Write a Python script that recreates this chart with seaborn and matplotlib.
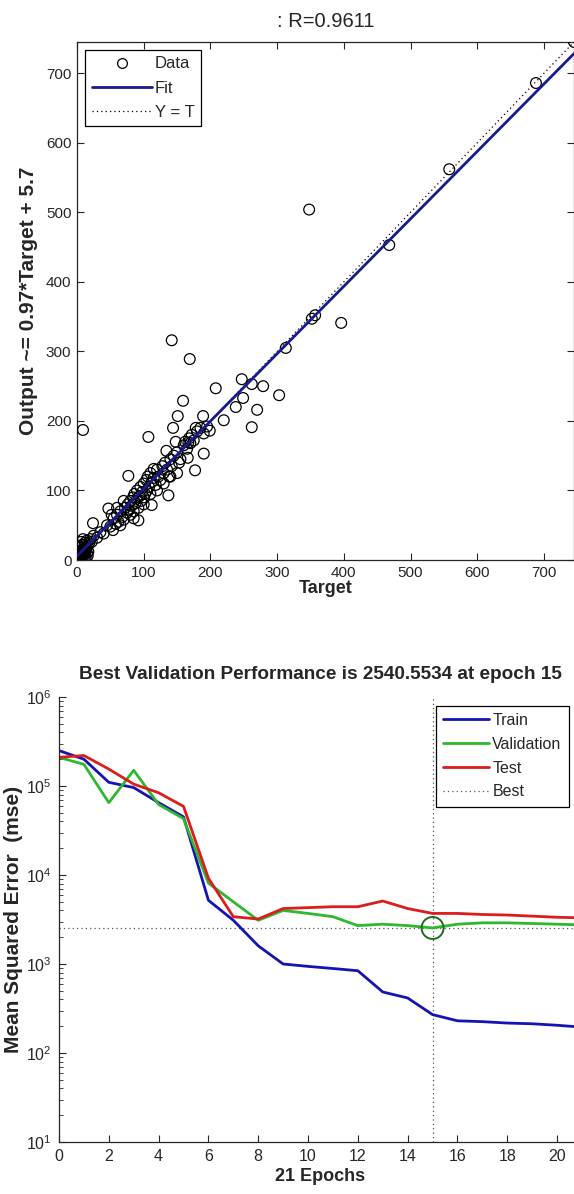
import numpy as np
import pandas as pd
import seaborn as sns
import matplotlib.pyplot as plt
from matplotlib.lines import Line2D

# regression plot: targets vs network outputs
target = [9, 142, 169, 208, 247, 262, 279, 303, 249, 238, 270, 220, 262, 159, 151, 189,
          144, 178, 199, 107, 148, 167, 190, 134, 166, 153, 177, 115, 137, 77, 112, 92,
          47, 24, 54, 313, 352, 357, 396, 348, 468, 558, 688, 745,
          2, 3, 4, 5, 5, 6, 7, 8, 8, 9, 10, 10, 11, 12, 12, 13, 14, 15, 15, 6, 3, 9, 11,
          4, 7, 13, 16, 16, 17, 18, 20, 22, 25, 30,
          35, 40, 45, 50, 55, 58, 60, 62, 65, 68, 70, 72, 75, 76, 78, 80, 80, 82, 84, 85,
          86, 88, 90, 90, 92, 94, 95, 96, 98, 100, 100, 102, 104, 105, 106, 108, 110, 110,
          112, 115, 118, 120, 122, 125, 128, 130, 132, 135, 138, 140, 142, 145, 150, 155,
          160, 162, 165, 168, 170, 172, 175, 180, 185, 190, 195, 60, 70, 52, 65, 85, 100,
          120, 130, 140, 150]
output = [187, 316, 289, 247, 260, 253, 250, 237, 233, 220, 216, 201, 191, 229, 207, 207,
          190, 190, 186, 177, 170, 169, 153, 157, 147, 140, 129, 131, 93, 121, 79, 57,
          74, 53, 43, 305, 347, 352, 341, 504, 453, 562, 686, 745,
          5, 12, 0, 8, 18, 3, 14, 6, 22, 10, 2, 16, 8, 25, 12, 4, 18, 10, 28, 26, 20, 30, 20,
          10, 0, 14, 6, 20, 12, 24, 30, 26, 35, 32,
          40, 38, 50, 48, 60, 52, 65, 55, 70, 62, 58, 75, 68, 80, 72, 85, 65, 78, 90, 70,
          95, 82, 88, 100, 75, 92, 105, 85, 98, 110, 90, 95, 115, 100, 120, 105, 95, 125,
          112, 118, 108, 130, 120, 115, 135, 125, 140, 130, 120, 145, 135, 150, 155, 145,
          165, 170, 160, 175, 168, 180, 172, 185, 190, 182, 192, 75, 85, 65, 50, 60, 80,
          100, 110, 120, 125]
fit_slope = 0.97
fit_offset = 5.7
r_value = 0.9611

# performance plot
epochs = list(range(22))
train_mse = [2.5e5, 2.0e5, 1.1e5, 9.6e4, 6.5e4, 4.5e4, 5.2e3, 3.1e3, 1.6e3, 1.0e3, 940,
             890, 840, 485, 415, 270, 230, 225, 217, 213, 205, 195]
val_mse = [2.1e5, 1.75e5, 6.5e4, 1.5e5, 6.2e4, 4.3e4, 8.1e3, 5.0e3, 3.1e3, 4.0e3, 3.7e3,
           3.4e3, 2.7e3, 2.8e3, 2.7e3, 2540.5534, 2.8e3, 2.9e3, 2.9e3, 2.85e3, 2.8e3, 2.75e3]
test_mse = [2.1e5, 2.2e5, 1.55e5, 1.05e5, 8.4e4, 5.9e4, 9.2e3, 3.4e3, 3.2e3, 4.2e3, 4.3e3,
            4.4e3, 4.4e3, 5.1e3, 4.2e3, 3.7e3, 3.7e3, 3.6e3, 3.55e3, 3.45e3, 3.35e3, 3.3e3]
best_epoch = 15
best_perf = 2540.5534

sns.set_style("ticks")
plt.rcParams['font.family'] = ['Liberation Sans', 'DejaVu Sans']
plt.rcParams['mathtext.fontset'] = 'custom'
plt.rcParams['mathtext.rm'] = 'Liberation Sans'
plt.rcParams['xtick.direction'] = 'in'
plt.rcParams['ytick.direction'] = 'in'

W, H = 574, 1194
fig = plt.figure(figsize=(W / 100, H / 100), dpi=100)
fig.patch.set_facecolor('white')

def px_axes(left, top, right, bottom):
    return fig.add_axes([left / W, 1 - bottom / H, (right - left) / W, (bottom - top) / H])

# ---------------- regression ----------------
ax1 = px_axes(77, 42, 574, 560)
lim = 745
df = pd.DataFrame({'Target': target, 'Output': output})
sns.scatterplot(data=df, x='Target', y='Output', ax=ax1, marker='o', s=60,
                facecolor='none', edgecolor='black', linewidth=0.9, zorder=3)
line_x = np.array([0, lim])
sns.lineplot(x=line_x, y=fit_slope * line_x + fit_offset, ax=ax1, color='#1a1a8f',
             linewidth=2, zorder=4)
sns.lineplot(x=line_x, y=line_x, ax=ax1, color='black', linewidth=0.9,
             linestyle=(0, (1, 2.5)), zorder=2)
ax1.set_xlim(0, lim)
ax1.set_ylim(0, lim)
ax1.set_xticks(range(0, 800, 100))
ax1.set_yticks(range(0, 800, 100))
ax1.tick_params(labelsize=11, length=5, width=0.8, top=True, right=True, pad=4)
for s in ax1.spines.values():
    s.set_linewidth(0.9)
ax1.set_title(': R=%.4f' % r_value, fontsize=14.5, pad=11)
ax1.set_xlabel('Target', fontsize=13, labelpad=0, weight='bold')
ax1.set_ylabel('Output ~= %.2g*Target + %.2g' % (fit_slope, fit_offset), fontsize=15,
               labelpad=6, weight='bold')
h1 = [Line2D([], [], marker='o', color='black', linestyle='none', markerfacecolor='none',
             markersize=7, markeredgewidth=0.9),
      Line2D([], [], color='#1a1a8f', linewidth=2),
      Line2D([], [], color='black', linewidth=0.9, linestyle=(0, (1, 2.5)))]
leg1 = ax1.legend(h1, ['Data', 'Fit', 'Y = T'], loc='upper left',
                  bbox_to_anchor=(0.016, 0.985), borderaxespad=0, fancybox=False,
                  edgecolor='black', framealpha=1, fontsize=12, handlelength=3.6,
                  handletextpad=0.2, labelspacing=0.55, borderpad=0.4)
leg1.get_frame().set_linewidth(0.9)

# ---------------- performance ----------------
ax2 = px_axes(59, 697, 582, 1142)
perf = pd.DataFrame({'Epoch': epochs * 3,
                     'MSE': train_mse + val_mse + test_mse,
                     'Set': ['Train'] * 22 + ['Validation'] * 22 + ['Test'] * 22})
colors = {'Train': '#1414b4', 'Validation': '#2db82d', 'Test': '#dd1c1c'}
sns.lineplot(data=perf, x='Epoch', y='MSE', hue='Set', palette=colors, ax=ax2,
             linewidth=2, estimator=None, legend=False)
ax2.set_yscale('log')
ax2.set_xlim(0, 21)
ax2.set_ylim(10, 1e6)
ax2.axhline(best_perf, color='#555555', linewidth=0.9, linestyle=(0, (1, 2.5)), zorder=1)
ax2.axvline(best_epoch, color='#555555', linewidth=0.9, linestyle=(0, (1, 2.5)), zorder=1)
sns.scatterplot(x=[best_epoch], y=[best_perf], ax=ax2, marker='o', s=250,
                facecolor='none', edgecolor='#1f6b1f', linewidth=1.4, zorder=5)
ax2.set_xticks(range(0, 22, 2))
ax2.set_yticks([10 ** k for k in range(1, 7)])
ax2.set_yticklabels(['$10^{%d}$' % k for k in range(1, 7)])
ax2.tick_params(labelsize=11.5, length=5, width=0.8, pad=5)
ax2.tick_params(which='minor', length=3, width=0.6)
ax2.spines['top'].set_visible(False)
ax2.spines['right'].set_visible(False)
for s in ax2.spines.values():
    s.set_linewidth(0.9)
ax2.set_title('Best Validation Performance is %.4f at epoch %d' % (best_perf, best_epoch),
              fontsize=13.7, pad=13, weight='bold')
ax2.set_xlabel('%d Epochs' % (len(epochs) - 1), fontsize=13, labelpad=3, weight='bold')
ax2.set_ylabel('Mean Squared Error  (mse)', fontsize=15, labelpad=2, weight='bold')
h2 = [Line2D([], [], color=colors['Train'], linewidth=2),
      Line2D([], [], color=colors['Validation'], linewidth=2),
      Line2D([], [], color=colors['Test'], linewidth=2),
      Line2D([], [], color='#555555', linewidth=0.9, linestyle=(0, (1, 2.5)))]
leg2 = ax2.legend(h2, ['Train', 'Validation', 'Test', 'Best'], loc='upper left',
                  bbox_to_anchor=(0.72, 0.98), borderaxespad=0, fancybox=False,
                  edgecolor='black', framealpha=1, fontsize=11.5, handlelength=2.9,
                  handletextpad=0.2, labelspacing=0.55, borderpad=0.45)
leg2.get_frame().set_linewidth(0.9)

fig.savefig('out.png', dpi=100, facecolor='white')
